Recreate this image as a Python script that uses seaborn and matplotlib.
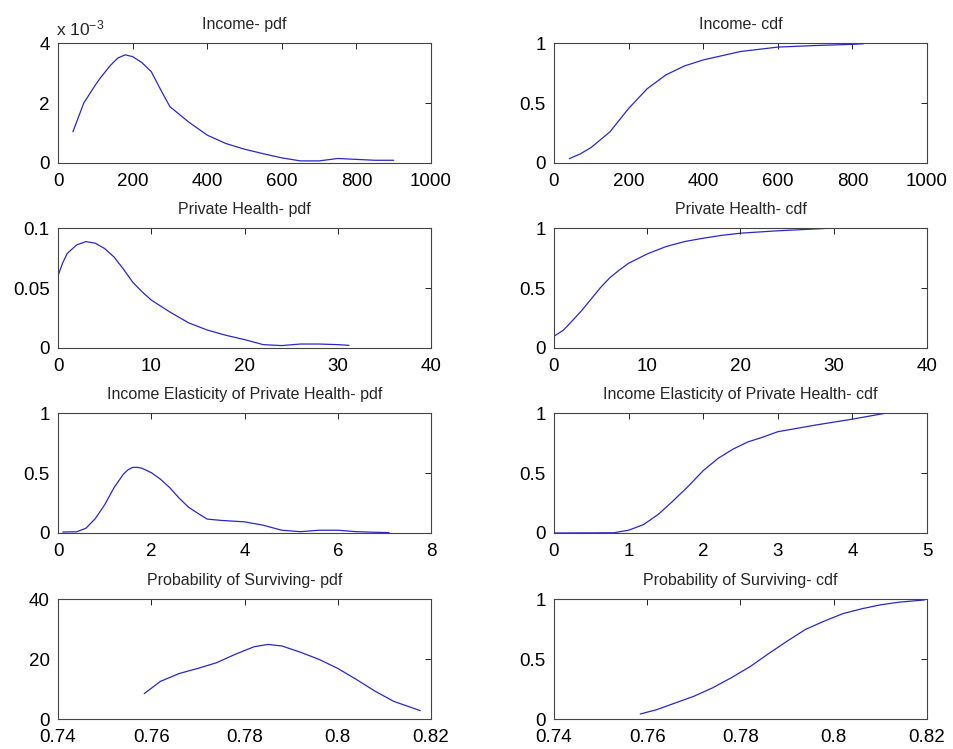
import numpy as np
import matplotlib
matplotlib.use('Agg')
import matplotlib.pyplot as plt
from matplotlib.ticker import FormatStrFormatter
import seaborn as sns

# values
income_x = [40, 69, 100, 113, 140, 160, 180, 200, 225, 250, 275, 300, 350, 400, 450, 500, 550, 600, 650, 700, 750, 800, 850, 900]
income_pdf_e3 = [1.04, 2.0, 2.6, 2.83, 3.25, 3.5, 3.61, 3.55, 3.35, 3.05, 2.45, 1.88, 1.37, 0.93, 0.65, 0.46, 0.31, 0.17, 0.07, 0.07, 0.15, 0.12, 0.09, 0.09]

income_cdf_x = [41, 70, 100, 150, 200, 250, 300, 350, 400, 500, 600, 700, 800, 830]
income_cdf = [0.036, 0.075, 0.13, 0.26, 0.455, 0.62, 0.735, 0.81, 0.86, 0.93, 0.967, 0.98, 0.99, 0.995]

health_x = [0, 0.5, 1, 2, 3, 4, 5, 6, 7, 8, 9, 10, 12, 14, 16, 18, 20, 22, 24, 26, 28, 30, 31.2]
health_pdf = [0.0603, 0.071, 0.079, 0.086, 0.0888, 0.0874, 0.083, 0.076, 0.066, 0.055, 0.047, 0.040,
              0.030, 0.021, 0.015, 0.0106, 0.007, 0.0028, 0.002, 0.0033, 0.0033, 0.0028, 0.0022]

health_cdf_x = [0, 1, 2, 3, 4, 5, 6, 7, 8, 10, 12, 14, 16, 18, 20, 24, 29]
health_cdf = [0.098, 0.148, 0.23, 0.315, 0.41, 0.505, 0.587, 0.65, 0.707, 0.785, 0.846, 0.888, 0.916, 0.94, 0.958, 0.978, 0.997]

elast_x = [0.1, 0.4, 0.6, 0.8, 1.0, 1.2, 1.4, 1.5, 1.6, 1.7, 1.8, 2.0, 2.2, 2.4, 2.6, 2.8, 3.0, 3.2, 3.5, 4.0, 4.4, 4.8, 5.2, 5.6, 6.0, 6.4, 6.8, 7.1]
elast_pdf = [0.008, 0.01, 0.04, 0.12, 0.235, 0.377, 0.49, 0.527, 0.547, 0.548, 0.54, 0.504, 0.448, 0.377, 0.29, 0.215,
             0.164, 0.116, 0.105, 0.093, 0.065, 0.023, 0.011, 0.023, 0.023, 0.011, 0.006, 0.003]

elast_cdf_x = [0, 0.8, 1.0, 1.2, 1.4, 1.6, 1.8, 2.0, 2.2, 2.4, 2.6, 2.8, 3.0, 3.5, 4.0, 4.45]
elast_cdf = [0, 0.002, 0.023, 0.07, 0.156, 0.27, 0.39, 0.52, 0.623, 0.70, 0.76, 0.80, 0.845, 0.90, 0.95, 1.0]

surv_x = [0.7585, 0.762, 0.766, 0.770, 0.774, 0.778, 0.782, 0.785, 0.788, 0.792, 0.796, 0.800, 0.804, 0.808, 0.812, 0.8177]
surv_pdf = [8.5, 12.6, 15.2, 16.9, 18.8, 21.6, 24.1, 24.9, 24.4, 22.3, 19.9, 16.9, 13.2, 9.3, 5.9, 2.8]

surv_cdf_x = [0.7585, 0.762, 0.766, 0.770, 0.774, 0.778, 0.782, 0.786, 0.790, 0.794, 0.798, 0.802, 0.806, 0.810, 0.814, 0.8195]
surv_cdf = [0.042, 0.078, 0.134, 0.19, 0.26, 0.344, 0.436, 0.545, 0.65, 0.749, 0.818, 0.88, 0.92, 0.953, 0.975, 0.994]

titles = ['Income- pdf', 'Income- cdf', 'Private Health- pdf', 'Private Health- cdf',
          'Income Elasticity of Private Health- pdf', 'Income Elasticity of Private Health- cdf',
          'Probability of Surviving- pdf', 'Probability of Surviving- cdf']

sns.set_style('white')
plt.rcParams['font.family'] = ['Liberation Sans', 'DejaVu Sans']
plt.rcParams['mathtext.default'] = 'regular'

panels = [
    (income_x, np.array(income_pdf_e3) * 1e-3, np.arange(0, 1001, 200), [0, 2e-3, 4e-3], ['0', '2', '4']),
    (income_cdf_x, income_cdf, np.arange(0, 1001, 200), [0, 0.5, 1], None),
    (health_x, health_pdf, np.arange(0, 41, 10), [0, 0.05, 0.1], None),
    (health_cdf_x, health_cdf, np.arange(0, 41, 10), [0, 0.5, 1], None),
    (elast_x, elast_pdf, np.arange(0, 9, 2), [0, 0.5, 1], None),
    (elast_cdf_x, elast_cdf, np.arange(0, 6, 1), [0, 0.5, 1], None),
    (surv_x, surv_pdf, [0.74, 0.76, 0.78, 0.80, 0.82], [0, 20, 40], None),
    (surv_cdf_x, surv_cdf, [0.74, 0.76, 0.78, 0.80, 0.82], [0, 0.5, 1], None),
]

fig = plt.figure(figsize=(9.54, 7.49), dpi=100)
lefts = [0.0608, 0.5807]
bottoms = [0.7824, 0.5354, 0.2884, 0.040]

for i, (x, y, xt, yt, ylabels) in enumerate(panels):
    ax = fig.add_axes([lefts[i % 2], bottoms[i // 2], 0.391, 0.160])
    sns.lineplot(x=x, y=y, ax=ax, color='#2828c8', linewidth=0.9, sort=False)
    ax.set_xlim(xt[0], xt[-1])
    ax.set_ylim(yt[0], yt[-1])
    ax.set_xticks(xt)
    ax.set_yticks(yt)
    ax.xaxis.set_major_formatter(FormatStrFormatter('%g'))
    if ylabels is not None:
        ax.set_yticklabels(ylabels)
    else:
        ax.yaxis.set_major_formatter(FormatStrFormatter('%g'))
    ax.tick_params(direction='in', length=4, width=0.7, top=True, right=True,
                   labelsize=13.5, colors='#222222', labelcolor='black')
    ax.tick_params(axis='x', pad=7)
    ax.tick_params(axis='y', pad=6)
    for s in ax.spines.values():
        s.set_visible(True)
        s.set_color('#444444')
        s.set_linewidth(0.8)
    ax.set_title(titles[i], fontsize=11.5, pad=10)
    ax.set_xlabel('')
    ax.set_ylabel('')

fig.axes[0].text(-0.005, 1.04, r'x 10$^{-3}$', transform=fig.axes[0].transAxes,
                 fontsize=12.5, ha='left', va='bottom')

fig.savefig('out.png', dpi=100)
